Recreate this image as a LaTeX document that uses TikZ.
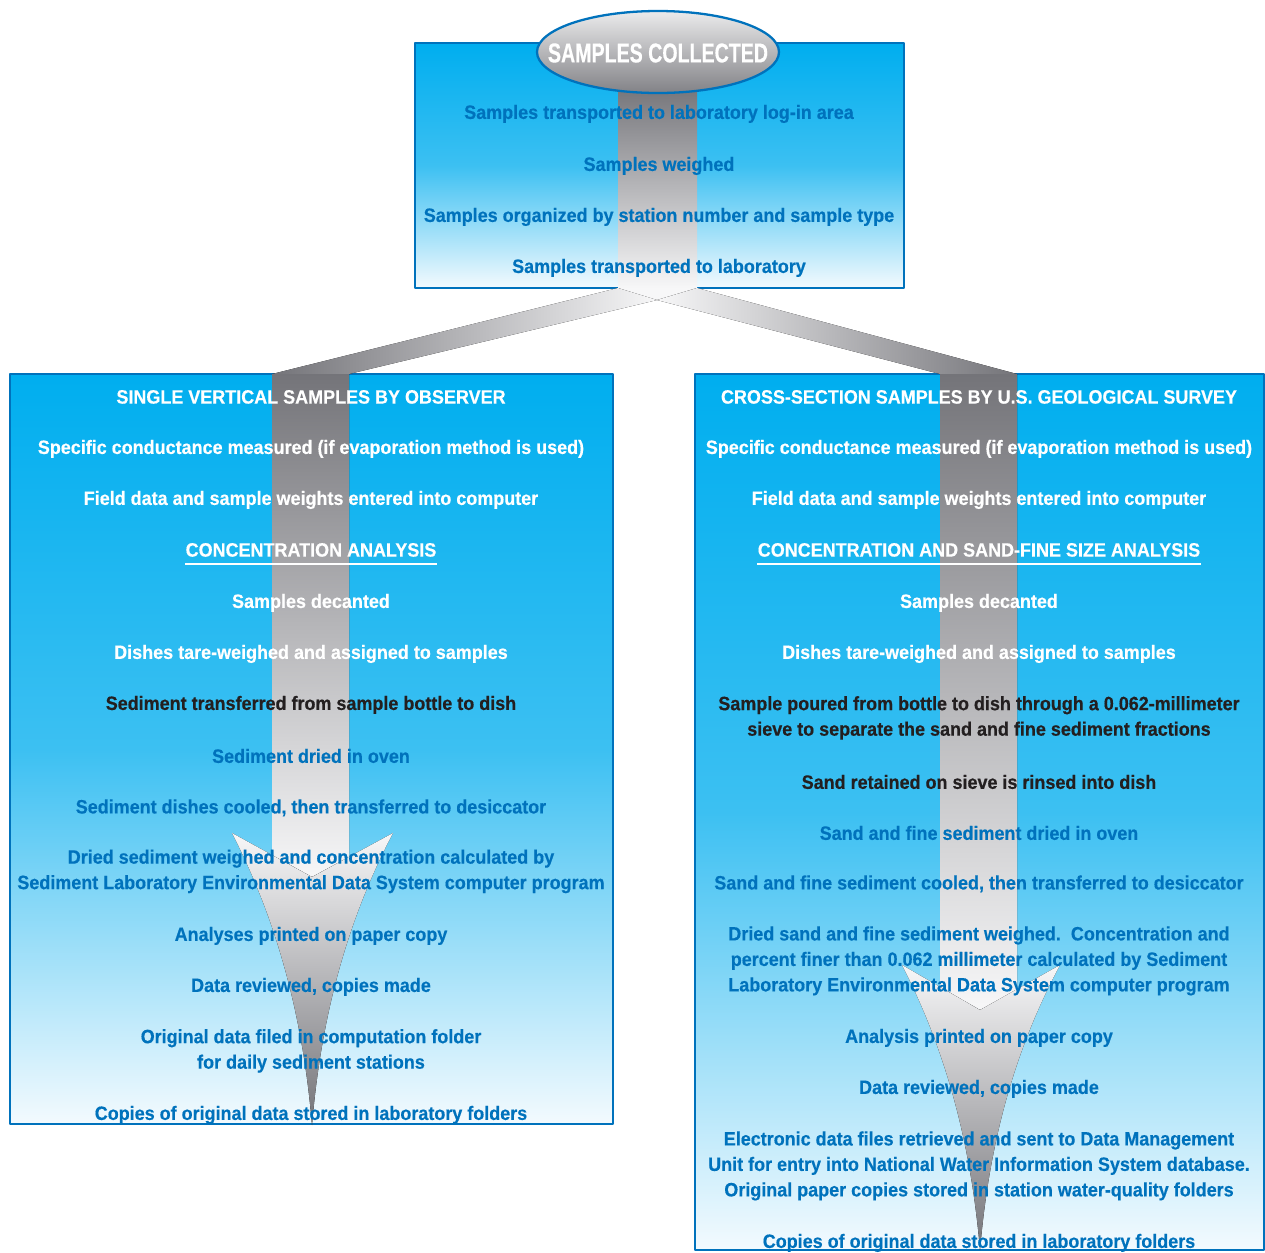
\documentclass[tikz,border=0pt]{standalone}
\usepackage{fontspec}
\setmainfont{Liberation Sans}[FakeStretch=0.93,FakeBold=0.4]
\newfontfamily\titlefont{Liberation Sans}[FakeStretch=0.72,FakeBold=0.4]
\definecolor{uscyan}{RGB}{0,174,239}
\definecolor{usmid}{RGB}{60,192,242}
\definecolor{uspale}{RGB}{243,250,254}
\definecolor{usblue}{RGB}{0,114,188}
\definecolor{usdark}{RGB}{35,31,32}
\definecolor{shaftdark}{RGB}{116,116,121}
\definecolor{shaftlight}{RGB}{247,247,248}
\tikzset{
  stagebox/.style={draw=usblue,line width=1.1pt,top color=uscyan,bottom color=uspale,middle color=usmid},
  shaft/.style={top color=shaftdark,bottom color=shaftlight},
  head/.style={top color=shaftlight,bottom color=shaftdark},
  item/.style={inner sep=0pt,align=center,yshift=-1.1pt,font=\bfseries\fontsize{11}{14.5}\selectfont},
  rule/.style={white,line width=1.1pt}
}
\begin{document}
\begin{tikzpicture}[x=0.02cm,y=0.02cm,line join=round]
  \useasboundingbox (0,0) rectangle (1265,-1252);
  % boxes
  \draw[stagebox] (415,-43) rectangle (904,-288);
  \draw[stagebox] (10,-374) rectangle (613,-1124);
  \draw[stagebox] (695,-374) rectangle (1264,-1250);
  % shaded arrows
  \fill[shaft] (618,-85) rectangle (697,-288);
  \fill[shaftlight] (618,-288) -- (697,-288) -- (657,-300) -- cycle;
  \fill[left color=shaftdark,right color=shaftlight] (618,-288) -- (272,-374) -- (349,-374) -- (657,-300) -- cycle;
  \fill[left color=shaftlight,right color=shaftdark] (697,-288) -- (1017,-374) -- (940,-374) -- (657,-300) -- cycle;
  \fill[shaft] (272,-374) -- (349,-374) -- (349,-857) -- (312,-877) -- (272,-855) -- cycle;
  \fill[shaft] (940,-374) -- (1017,-374) -- (1017,-990) -- (980,-1010) -- (940,-987) -- cycle;
  \fill[head] (232,-833) -- (312,-877) -- (393,-833) .. controls (342,-930) and (320,-1030) .. (312,-1125)
    .. controls (304,-1030) and (282,-930) .. (232,-833) -- cycle;
  \fill[head] (902,-965) -- (980,-1010) -- (1060,-965) .. controls (1009,-1060) and (988,-1157) .. (980,-1250)
    .. controls (972,-1157) and (951,-1060) .. (902,-965) -- cycle;
  \draw[usblue,line width=1.3pt,top color=shaftlight!90!gray,bottom color=shaftdark!90] (658,-52) ellipse (121 and 41);
  \node[inner sep=0pt,text=white,font=\titlefont\bfseries\fontsize{15.5}{15.5}\selectfont] (collected) at (658,-53) {SAMPLES COLLECTED};
  % top box
  \foreach \n/\y/\t in {1/112/{Samples transported to laboratory log-in area},
      2/164/{Samples weighed},
      3/215/{Samples organized by station number and sample type},
      4/266/{Samples transported to laboratory}}
    \node[item,text=usblue] (top\n) at (659,-\y) {\t};
  % single vertical samples
  \foreach \n/\y/\c/\t in {1/395/white/{SINGLE VERTICAL SAMPLES BY OBSERVER},
      2/447/white/{Specific conductance measured (if evaporation method is used)},
      3/498/white/{Field data and sample weights entered into computer},
      4/548/white/{CONCENTRATION ANALYSIS},
      5/601/white/{Samples decanted},
      6/652/white/{Dishes tare-weighed and assigned to samples},
      7/703/usdark/{Sediment transferred from sample bottle to dish},
      8/754/usblue/{Sediment dried in oven},
      9/806/usblue/{Sediment dishes cooled, then transferred to desiccator},
      10/869.5/usblue/{Dried sediment weighed and concentration calculated by\\Sediment Laboratory Environmental Data System computer program},
      11/934/usblue/{Analyses printed on paper copy},
      12/985/usblue/{Data reviewed, copies made},
      13/1049/usblue/{Original data filed in computation folder\\for daily sediment stations},
      14/1113/usblue/{Copies of original data stored in laboratory folders}}
    \node[item,text=\c] (single\n) at (311,-\y) {\t};
  % cross-section samples
  \foreach \n/\y/\c/\t in {1/395/white/{CROSS-SECTION SAMPLES BY U.S. GEOLOGICAL SURVEY},
      2/447/white/{Specific conductance measured (if evaporation method is used)},
      3/498/white/{Field data and sample weights entered into computer},
      4/548/white/{CONCENTRATION AND SAND-FINE SIZE ANALYSIS},
      5/601/white/{Samples decanted},
      6/652/white/{Dishes tare-weighed and assigned to samples},
      7/716/usdark/{Sample poured from bottle to dish through a 0.062-millimeter\\sieve to separate the sand and fine sediment fractions},
      8/780/usdark/{Sand retained on sieve is rinsed into dish},
      9/831/usblue/{Sand and fine sediment dried in oven},
      10/882/usblue/{Sand and fine sediment cooled, then transferred to desiccator},
      11/959/usblue/{Dried sand and fine sediment weighed.\ \ Concentration and\\percent finer than 0.062 millimeter calculated by Sediment\\Laboratory Environmental Data System computer program},
      12/1036/usblue/{Analysis printed on paper copy},
      13/1087/usblue/{Data reviewed, copies made},
      14/1164/usblue/{Electronic data files retrieved and sent to Data Management\\Unit for entry into National Water Information System database.\\Original paper copies stored in station water-quality folders},
      15/1241/usblue/{Copies of original data stored in laboratory folders}}
    \node[item,text=\c] (cross\n) at (979,-\y) {\t};
  \draw[rule] ([yshift=-4pt]single4.base west) -- ([yshift=-4pt]single4.base east);
  \draw[rule] ([yshift=-4pt]cross4.base west) -- ([yshift=-4pt]cross4.base east);
\end{tikzpicture}
\end{document}
